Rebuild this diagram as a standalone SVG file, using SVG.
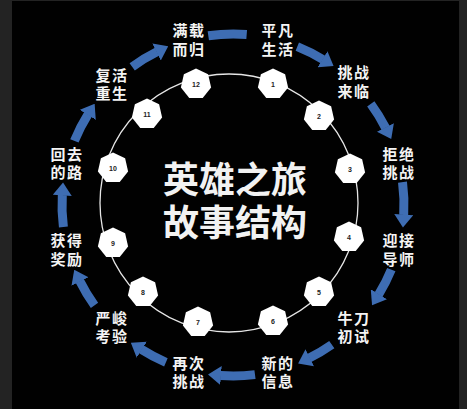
<svg xmlns="http://www.w3.org/2000/svg" width="467" height="409" viewBox="0 0 467 409">
<style>
.lbl{font-family:"Liberation Sans","Noto Sans CJK SC","Noto Sans CJK TC",sans-serif;font-weight:700;font-size:15px;letter-spacing:1.5px;fill:#f4f4f4;text-anchor:middle}
.ttl{font-family:"Liberation Sans","Noto Sans CJK SC","Noto Sans CJK TC",sans-serif;font-weight:700;font-size:36px;fill:#f2f2f2;text-anchor:middle}
.num{font-family:"Liberation Sans",Arial,sans-serif;font-weight:700;font-size:7px;fill:#222;text-anchor:middle}
.arr{fill:none;stroke:#3e6db3;stroke-width:9}
.hep{fill:#ffffff}
</style>
<defs>
<polygon id="hp" class="hep" points="0,-15.5 12.12,-9.66 15.11,3.45 6.73,13.97 -6.73,13.97 -15.11,3.45 -12.12,-9.66"/>
<marker id="ah" markerUnits="userSpaceOnUse" markerWidth="13" markerHeight="19" viewBox="0 0 13 19" refX="0.5" refY="9.5" orient="auto">
<path d="M0,0 L13,9.5 L0,19 z" fill="#3e6db3"/>
</marker>
</defs>
<rect x="0" y="0" width="467" height="409" fill="#232323"/>
<rect x="12" y="1" width="447" height="408" fill="#010101"/>
<circle cx="229" cy="203" r="129" fill="none" stroke="#e6e6e6" stroke-width="1.3"/>
<g id="connectors">
<path class="arr" marker-end="url(#ah)" d="M297.3,46.6 A171,171 0 0 1 322.9,59.5"/>
<path class="arr" marker-end="url(#ah)" d="M370.8,103.8 A171,171 0 0 1 385.6,127.9"/>
<path class="arr" marker-end="url(#ah)" d="M402.5,182.1 A171,171 0 0 1 403.7,215.1"/>
<path class="arr" marker-end="url(#ah)" d="M391.3,269.6 A171,171 0 0 1 378.6,294.6"/>
<path class="arr" marker-end="url(#ah)" d="M331.8,344.6 A171,171 0 0 1 309.3,358.0"/>
<path class="arr" marker-end="url(#ah)" d="M255.0,374.6 A171,171 0 0 1 220.5,375.5"/>
<path class="arr" marker-end="url(#ah)" d="M165.9,362.3 A171,171 0 0 1 141.4,349.4"/>
<path class="arr" marker-end="url(#ah)" d="M94.5,305.3 A171,171 0 0 1 79.8,281.0"/>
<path class="arr" marker-end="url(#ah)" d="M63.4,227.0 A171,171 0 0 1 62.3,194.9"/>
<path class="arr" marker-end="url(#ah)" d="M74.4,140.9 A171,171 0 0 1 88.0,114.4"/>
<path class="arr" marker-end="url(#ah)" d="M132.2,66.8 A171,171 0 0 1 157.0,51.8"/>
<path class="arr" d="M208.3,35.8 A171,171 0 0 1 246.7,34.5"/>
</g>
<g id="n1"><use href="#hp" x="273" y="84"/><text class="num" x="273" y="87">1</text></g>
<g id="n2"><use href="#hp" x="319" y="116"/><text class="num" x="319" y="119">2</text></g>
<g id="n3"><use href="#hp" x="350" y="169"/><text class="num" x="350" y="172">3</text></g>
<g id="n4"><use href="#hp" x="349" y="237"/><text class="num" x="349" y="240">4</text></g>
<g id="n5"><use href="#hp" x="319" y="292"/><text class="num" x="319" y="295">5</text></g>
<g id="n6"><use href="#hp" x="273" y="321"/><text class="num" x="273" y="324">6</text></g>
<g id="n7"><use href="#hp" x="198" y="322"/><text class="num" x="198" y="325">7</text></g>
<g id="n8"><use href="#hp" x="143" y="292"/><text class="num" x="143" y="295">8</text></g>
<g id="n9"><use href="#hp" x="113" y="243"/><text class="num" x="113" y="246">9</text></g>
<g id="n10"><use href="#hp" x="113" y="168"/><text class="num" x="113" y="171">10</text></g>
<g id="n11"><use href="#hp" x="147" y="114"/><text class="num" x="147" y="117">11</text></g>
<g id="n12"><use href="#hp" x="196" y="84"/><text class="num" x="196" y="87">12</text></g>
<g id="title"><text class="ttl"><tspan x="235" y="193">英雄之旅</tspan><tspan x="235" y="236">故事结构</tspan></text></g>
<g id="s1"><text class="lbl"><tspan x="278" y="36">平凡</tspan><tspan x="278" y="54.5">生活</tspan></text></g>
<g id="s2"><text class="lbl"><tspan x="354" y="78">挑战</tspan><tspan x="354" y="96.5">来临</tspan></text></g>
<g id="s3"><text class="lbl"><tspan x="399" y="159.5">拒绝</tspan><tspan x="399" y="178">挑战</tspan></text></g>
<g id="s4"><text class="lbl"><tspan x="399" y="246">迎接</tspan><tspan x="399" y="264.5">导师</tspan></text></g>
<g id="s5"><text class="lbl"><tspan x="354" y="323.5">牛刀</tspan><tspan x="354" y="342">初试</tspan></text></g>
<g id="s6"><text class="lbl"><tspan x="278" y="368.5">新的</tspan><tspan x="278" y="387">信息</tspan></text></g>
<g id="s7"><text class="lbl"><tspan x="189" y="368.5">再次</tspan><tspan x="189" y="387">挑战</tspan></text></g>
<g id="s8"><text class="lbl"><tspan x="112" y="323.5">严峻</tspan><tspan x="112" y="342">考验</tspan></text></g>
<g id="s9"><text class="lbl"><tspan x="67" y="246">获得</tspan><tspan x="67" y="264.5">奖励</tspan></text></g>
<g id="s10"><text class="lbl"><tspan x="67" y="159.5">回去</tspan><tspan x="67" y="178">的路</tspan></text></g>
<g id="s11"><text class="lbl"><tspan x="112" y="80.5">复活</tspan><tspan x="112" y="99">重生</tspan></text></g>
<g id="s12"><text class="lbl"><tspan x="189" y="36">满载</tspan><tspan x="189" y="54.5">而归</tspan></text></g>
</svg>
